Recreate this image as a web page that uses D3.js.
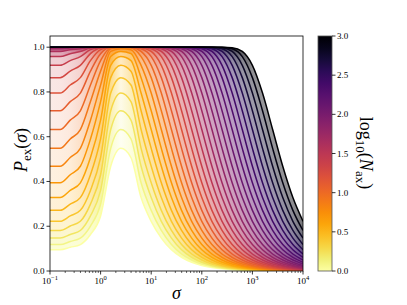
<!DOCTYPE html>
<html><head><meta charset="utf-8">
<script src="https://d3js.org/d3.v7.min.js"></script>
<style>
body{margin:0;background:#fff}
svg text{font-family:"Liberation Serif","DejaVu Serif",serif;fill:#000}
</style></head><body>
<svg id="chart" width="407" height="305"></svg>
<script>
// sample points (log10 sigma) and curve parameter log10(N_ax)
const logSigma = [-1.0,-0.8,-0.6,-0.4,-0.2,0.0,0.2,0.4,0.6,0.8,1.0,1.2,1.4,1.6,1.8,2.0,2.2,2.4,2.6,2.8,3.0,3.2,3.4,3.6,3.8,4.0];
const logN = [0.0,0.1,0.2,0.3,0.4,0.5,0.6,0.7,0.8,0.9,1.0,1.1,1.2,1.3,1.4,1.5,1.6,1.7,1.8,1.9,2.0,2.1,2.2,2.3,2.4,2.5,2.6,2.7,2.8,2.9,3.0];
// P_ex, one row per curve
const pex = [
 [0.095,0.095,0.106,0.118,0.163,0.246,0.468,0.548,0.507,0.328,0.222,0.147,0.095,0.061,0.039,0.025,0.016,0.010,0.006,0.004,0.003,0.002,0.001,0.001,0,0],
 [0.118,0.118,0.132,0.147,0.201,0.299,0.548,0.632,0.590,0.394,0.271,0.181,0.118,0.076,0.049,0.031,0.020,0.012,0.008,0.005,0.003,0.002,0.001,0.001,0.001,0],
 [0.147,0.147,0.163,0.181,0.246,0.360,0.632,0.716,0.674,0.468,0.328,0.222,0.147,0.095,0.061,0.039,0.025,0.016,0.010,0.006,0.004,0.003,0.002,0.001,0.001,0],
 [0.181,0.181,0.201,0.222,0.299,0.430,0.716,0.795,0.757,0.548,0.394,0.271,0.181,0.118,0.076,0.049,0.031,0.020,0.012,0.008,0.005,0.003,0.002,0.001,0.001,0.001],
 [0.222,0.222,0.246,0.271,0.360,0.507,0.795,0.864,0.831,0.632,0.468,0.328,0.222,0.147,0.095,0.061,0.039,0.025,0.016,0.010,0.006,0.004,0.003,0.002,0.001,0.001],
 [0.271,0.271,0.299,0.328,0.430,0.590,0.864,0.919,0.893,0.716,0.548,0.394,0.271,0.181,0.118,0.076,0.049,0.031,0.020,0.012,0.008,0.005,0.003,0.002,0.001,0.001],
 [0.328,0.328,0.360,0.394,0.507,0.674,0.919,0.958,0.940,0.795,0.632,0.468,0.328,0.222,0.147,0.095,0.061,0.039,0.025,0.016,0.010,0.006,0.004,0.003,0.002,0.001],
 [0.394,0.394,0.430,0.468,0.590,0.757,0.958,0.981,0.971,0.864,0.716,0.548,0.394,0.271,0.181,0.118,0.076,0.049,0.031,0.020,0.012,0.008,0.005,0.003,0.002,0.001],
 [0.468,0.468,0.507,0.548,0.674,0.831,0.981,0.993,0.989,0.919,0.795,0.632,0.468,0.328,0.222,0.147,0.095,0.061,0.039,0.025,0.016,0.010,0.006,0.004,0.003,0.002],
 [0.548,0.548,0.590,0.632,0.757,0.893,0.993,0.998,0.996,0.958,0.864,0.716,0.548,0.394,0.271,0.181,0.118,0.076,0.049,0.031,0.020,0.012,0.008,0.005,0.003,0.002],
 [0.632,0.632,0.674,0.716,0.831,0.940,0.998,1,0.999,0.981,0.919,0.795,0.632,0.468,0.328,0.222,0.147,0.095,0.061,0.039,0.025,0.016,0.010,0.006,0.004,0.003],
 [0.716,0.716,0.757,0.795,0.893,0.971,1,1,1,0.993,0.958,0.864,0.716,0.548,0.394,0.271,0.181,0.118,0.076,0.049,0.031,0.020,0.012,0.008,0.005,0.003],
 [0.795,0.795,0.831,0.864,0.940,0.989,1,1,1,0.998,0.981,0.919,0.795,0.632,0.468,0.328,0.222,0.147,0.095,0.061,0.039,0.025,0.016,0.010,0.006,0.004],
 [0.864,0.864,0.893,0.919,0.971,0.996,1,1,1,1,0.993,0.958,0.864,0.716,0.548,0.394,0.271,0.181,0.118,0.076,0.049,0.031,0.020,0.012,0.008,0.005],
 [0.919,0.919,0.940,0.958,0.989,0.999,1,1,1,1,0.998,0.981,0.919,0.795,0.632,0.468,0.328,0.222,0.147,0.095,0.061,0.039,0.025,0.016,0.010,0.006],
 [0.958,0.958,0.971,0.981,0.996,1,1,1,1,1,1,0.993,0.958,0.864,0.716,0.548,0.394,0.271,0.181,0.118,0.076,0.049,0.031,0.020,0.012,0.008],
 [0.981,0.981,0.989,0.993,0.999,1,1,1,1,1,1,0.998,0.981,0.919,0.795,0.632,0.468,0.328,0.222,0.147,0.095,0.061,0.039,0.025,0.016,0.010],
 [0.993,0.993,0.996,0.998,1,1,1,1,1,1,1,1,0.993,0.958,0.864,0.716,0.548,0.394,0.271,0.181,0.118,0.076,0.049,0.031,0.020,0.012],
 [0.998,0.998,0.999,1,1,1,1,1,1,1,1,1,0.998,0.981,0.919,0.795,0.632,0.468,0.328,0.222,0.147,0.095,0.061,0.039,0.025,0.016],
 [1,1,1,1,1,1,1,1,1,1,1,1,1,0.993,0.958,0.864,0.716,0.548,0.394,0.271,0.181,0.118,0.076,0.049,0.031,0.020],
 [1,1,1,1,1,1,1,1,1,1,1,1,1,0.998,0.981,0.919,0.795,0.632,0.468,0.328,0.222,0.147,0.095,0.061,0.039,0.025],
 [1,1,1,1,1,1,1,1,1,1,1,1,1,1,0.993,0.958,0.864,0.716,0.548,0.394,0.271,0.181,0.118,0.076,0.049,0.031],
 [1,1,1,1,1,1,1,1,1,1,1,1,1,1,0.998,0.981,0.919,0.795,0.632,0.468,0.328,0.222,0.147,0.095,0.061,0.039],
 [1,1,1,1,1,1,1,1,1,1,1,1,1,1,1,0.993,0.958,0.864,0.716,0.548,0.394,0.271,0.181,0.118,0.076,0.049],
 [1,1,1,1,1,1,1,1,1,1,1,1,1,1,1,0.998,0.981,0.919,0.795,0.632,0.468,0.328,0.222,0.147,0.095,0.061],
 [1,1,1,1,1,1,1,1,1,1,1,1,1,1,1,1,0.993,0.958,0.864,0.716,0.548,0.394,0.271,0.181,0.118,0.076],
 [1,1,1,1,1,1,1,1,1,1,1,1,1,1,1,1,0.998,0.981,0.919,0.795,0.632,0.468,0.328,0.222,0.147,0.095],
 [1,1,1,1,1,1,1,1,1,1,1,1,1,1,1,1,1,0.993,0.958,0.864,0.716,0.548,0.394,0.271,0.181,0.118],
 [1,1,1,1,1,1,1,1,1,1,1,1,1,1,1,1,1,0.998,0.981,0.919,0.795,0.632,0.468,0.328,0.222,0.147],
 [1,1,1,1,1,1,1,1,1,1,1,1,1,1,1,1,1,1,0.993,0.958,0.864,0.716,0.548,0.394,0.271,0.181],
 [1,1,1,1,1,1,1,1,1,1,1,1,1,1,1,1,1,1,0.998,0.981,0.919,0.795,0.632,0.468,0.328,0.222]
];
const yTicks = [0.0,0.2,0.4,0.6,0.8,1.0];
const xDecades = [-1,0,1,2,3,4];
const cbTicks = [0.0,0.5,1.0,1.5,2.0,2.5,3.0];

const svg = d3.select("#chart");
const defs = svg.append("defs");
const L = 50, R = 303, T = 36, B = 271;
const x = d3.scaleLog().domain([0.1, 1e4]).range([L, R]);
const y = d3.scaleLinear().domain([0, 1.05]).range([B, T]);
const c = d3.scaleLinear().domain([0, 3]).range([B, T]);
const cmap = v => d3.interpolateInferno(1 - v / 3);

defs.append("clipPath").attr("id", "plot")
  .append("rect").attr("x", L).attr("y", T).attr("width", R - L).attr("height", B - T);

const g = svg.append("g").attr("clip-path", "url(#plot)");
const sig = logSigma.map(v => Math.pow(10, v));
const px = sig.map(s => x(s));

// slope of a curve in pixels at sample i
function slope(row, i) {
  const a = Math.max(0, i - 1), b = Math.min(row.length - 1, i + 1);
  return (y(row[b]) - y(row[a])) / (px[b] - px[a]);
}

// shading between neighbouring curves: stronger where the curves crowd together
pex.forEach((row, k) => {
  if (k === 0) return;
  const prev = pex[k - 1];
  const col = cmap(logN[k] - 0.05);
  const grad = defs.append("linearGradient").attr("id", "band" + k)
    .attr("gradientUnits", "userSpaceOnUse")
    .attr("x1", L).attr("x2", R).attr("y1", 0).attr("y2", 0);
  row.forEach((v, i) => {
    const gap = y(prev[i]) - y(v);
    const s = (slope(row, i) + slope(prev, i)) / 2;
    const d = Math.max(gap / Math.sqrt(1 + s * s), 0.8);
    grad.append("stop").attr("offset", (px[i] - L) / (R - L))
      .attr("stop-color", col).attr("stop-opacity", Math.min(2.1 / d, 0.75));
  });
  const area = d3.area()
    .x((d, i) => px[i])
    .y0((d, i) => y(prev[i]))
    .y1((d, i) => y(row[i]))
    .curve(d3.curveMonotoneX);
  g.append("path").attr("d", area(row)).attr("fill", "url(#band" + k + ")");
});

pex.forEach((row, k) => {
  const line = d3.line()
    .x((d, i) => px[i])
    .y(d => y(d))
    .curve(d3.curveMonotoneX);
  g.append("path").attr("d", line(row))
    .attr("fill", "none").attr("stroke", cmap(logN[k])).attr("stroke-width", 1.5);
});

// frame
svg.append("rect").attr("x", L).attr("y", T).attr("width", R - L).attr("height", B - T)
  .attr("fill", "none").attr("stroke", "#000").attr("stroke-width", 0.8);

// y axis
const ya = svg.append("g");
yTicks.forEach(v => {
  ya.append("line").attr("x1", L - 3.5).attr("x2", L).attr("y1", y(v)).attr("y2", y(v))
    .attr("stroke", "#000").attr("stroke-width", 0.8);
  ya.append("text").attr("x", L - 5.5).attr("y", y(v) + 3).attr("text-anchor", "end")
    .attr("font-size", 9).text(v.toFixed(1));
});

// x axis (log, with minor ticks)
const xa = svg.append("g");
xDecades.forEach(d => {
  const v = Math.pow(10, d);
  xa.append("line").attr("x1", x(v)).attr("x2", x(v)).attr("y1", B).attr("y2", B + 3.5)
    .attr("stroke", "#000").attr("stroke-width", 0.8);
  const t = xa.append("text").attr("x", x(v)).attr("y", B + 13).attr("text-anchor", "middle")
    .attr("font-size", 9);
  t.append("tspan").text("10");
  t.append("tspan").attr("dy", -4).attr("font-size", 6.5).text(d < 0 ? "\u2212" + (-d) : d);
  if (d < 4) {
    for (let j = 2; j <= 9; j++) {
      const mv = j * v;
      xa.append("line").attr("x1", x(mv)).attr("x2", x(mv)).attr("y1", B).attr("y2", B + 2)
        .attr("stroke", "#000").attr("stroke-width", 0.6);
    }
  }
});

// axis labels
svg.append("text").attr("transform", "translate(27,150) rotate(-90)")
  .attr("text-anchor", "middle").attr("font-size", 18)
  .call(t => {
    t.append("tspan").attr("font-style", "italic").text("P");
    t.append("tspan").attr("dy", 4).attr("font-size", 13).text("ex");
    t.append("tspan").attr("dy", -4).text("(");
    t.append("tspan").attr("font-style", "italic").text("\u03c3");
    t.append("tspan").text(")");
  });
svg.append("text").attr("x", (L + R) / 2).attr("y", 299).attr("text-anchor", "middle")
  .attr("font-size", 18).attr("font-style", "italic").text("\u03c3");

// colorbar
const cbX = 318, cbW = 14;
const grad = defs.append("linearGradient").attr("id", "cb")
  .attr("x1", 0).attr("y1", 1).attr("x2", 0).attr("y2", 0);
d3.range(0, 1.0001, 0.05).forEach(f => {
  grad.append("stop").attr("offset", f).attr("stop-color", cmap(f * 3));
});
svg.append("rect").attr("x", cbX).attr("y", T).attr("width", cbW).attr("height", B - T)
  .attr("fill", "url(#cb)").attr("stroke", "#555").attr("stroke-width", 0.8);
cbTicks.forEach(v => {
  svg.append("line").attr("x1", cbX + cbW).attr("x2", cbX + cbW + 3.5).attr("y1", c(v)).attr("y2", c(v))
    .attr("stroke", "#000").attr("stroke-width", 0.8);
  svg.append("text").attr("x", cbX + cbW + 5).attr("y", c(v) + 3).attr("font-size", 9).text(v.toFixed(1));
});
svg.append("text").attr("transform", "translate(360,153) rotate(90)")
  .attr("text-anchor", "middle").attr("font-size", 18)
  .call(t => {
    t.append("tspan").text("log");
    t.append("tspan").attr("dy", 4).attr("font-size", 13).text("10");
    t.append("tspan").attr("dy", -4).text("(");
    t.append("tspan").attr("font-style", "italic").text("N");
    t.append("tspan").attr("dy", 4).attr("font-size", 13).text("ax");
    t.append("tspan").attr("dy", -4).text(")");
  });
</script>
</body></html>
